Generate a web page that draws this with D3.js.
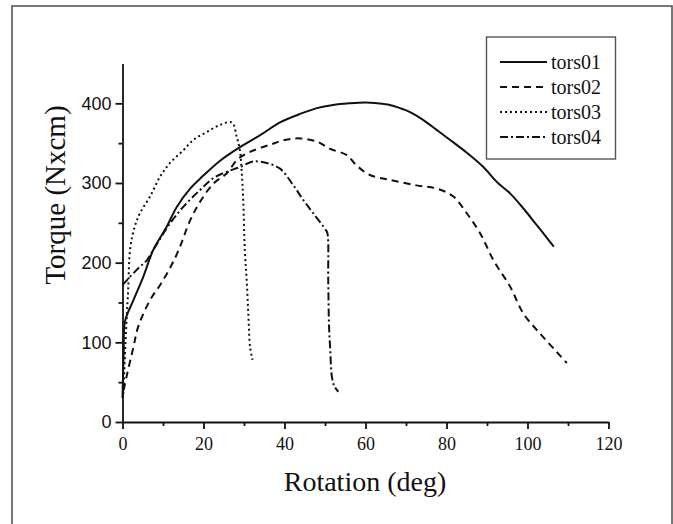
<!DOCTYPE html>
<html>
<head>
<meta charset="utf-8">
<script src="https://cdn.jsdelivr.net/npm/d3@7"></script>
<style>
  html, body { margin: 0; padding: 0; background: #fff; }
  svg { display: block; }
</style>
</head>
<body>
<div id="chart"></div>
<script>
// Torque vs rotation, four torsion tests

const seriesNames = ["tors01", "tors02", "tors03", "tors04"];

const tors01Rot = [0, 0.3, 0.6, 2.7, 5.1, 7.6, 10.9, 13.4, 16.7, 19.9, 24.1, 29.0, 34.0, 38.9, 44, 48, 52, 56, 60, 63, 66, 68.5, 71, 74.3, 77.5, 80.9, 85, 89.1, 92.5, 95.7, 99, 102.3, 104.5, 106.5];
const tors01Torque = [30, 90, 126, 153, 182, 216, 245, 270, 293, 309, 328, 345, 360, 376, 387, 394, 398, 400, 401, 400, 398, 394, 389, 379, 367, 354, 338, 320, 301, 287, 268, 247, 233, 220];

const tors02Rot = [0.3, 1.0, 2.7, 3.9, 6.8, 9.3, 11.7, 13.8, 16.7, 19.1, 22.4, 25.7, 28.5, 31.5, 36.4, 40, 43.8, 48, 51.2, 55.4, 57.8, 61.1, 66, 72.6, 77.6, 81.7, 85, 88.3, 91.6, 95.7, 99, 103.1, 107.2, 109.7];
const tors02Torque = [40, 57, 94, 120, 153, 172, 193, 215, 253, 276, 299, 312, 330, 339, 348, 354, 356, 352, 343, 335, 322, 310, 304, 297, 293, 283, 262, 237, 203, 170, 136, 111, 88, 74];

const tors03Rot = [0.2, 1.0, 1.4, 1.9, 3.0, 4.3, 6.8, 9.3, 11.7, 15.0, 17.5, 20.8, 24.1, 27.0, 28.2, 29.0, 29.4, 29.8, 30.2, 30.7, 31.1, 31.5, 32.1];
const tors03Torque = [35, 128, 166, 218, 245, 262, 283, 308, 325, 341, 354, 364, 373, 376, 358, 341, 316, 279, 216, 174, 132, 94, 78];

const tors04Rot = [0, 3.5, 6.0, 7.6, 11.7, 15.0, 19.1, 22.4, 25.7, 29.0, 32.3, 35.6, 38.9, 42.2, 44.6, 47.1, 50.2, 50.6, 50.8, 51.0, 51.3, 51.7, 52.3, 53.3];
const tors04Torque = [172, 191, 203, 216, 249, 270, 291, 306, 314, 320, 327, 325, 318, 297, 279, 262, 241, 237, 178, 120, 90, 57, 45, 38];

const xTicks = [0, 20, 40, 60, 80, 100, 120];
const xMinorTicks = [10, 30, 50, 70, 90, 110];
const yTicks = [0, 100, 200, 300, 400];
const yMinorTicks = [50, 150, 250, 350];

const dashes = { tors01: null, tors02: "7,5", tors03: "2,3", tors04: "8,3,2,3" };

function drawGraph() {
  const width = 673, height = 524;

  const svg = d3.select("#chart").append("svg")
    .attr("width", width)
    .attr("height", height);

  // outer frame (bottom edge runs off the picture)
  svg.append("rect")
    .attr("x", 12).attr("y", 6)
    .attr("width", 660).attr("height", 560)
    .style("fill", "none")
    .style("stroke", "#555")
    .style("stroke-width", 1.6);

  const x = d3.scaleLinear().domain([0, 120]).range([122.5, 608.5]);
  const y = d3.scaleLinear().domain([0, 450]).range([422, 63.5]);

  const series = [
    { key: "tors01", rot: tors01Rot, tq: tors01Torque },
    { key: "tors02", rot: tors02Rot, tq: tors02Torque },
    { key: "tors03", rot: tors03Rot, tq: tors03Torque },
    { key: "tors04", rot: tors04Rot, tq: tors04Torque }
  ];

  const line = d3.line()
    .x(d => x(d[0]))
    .y(d => y(d[1]))
    .curve(d3.curveCatmullRom.alpha(0.5));

  series.forEach(s => {
    const pts = s.rot.map((r, i) => [r, s.tq[i]]);
    svg.append("path")
      .datum(pts)
      .attr("d", line)
      .style("fill", "none")
      .style("stroke", "#111")
      .style("stroke-width", 2)
      .style("stroke-dasharray", dashes[s.key]);
  });

  // AXES
  const xAxis = svg.append("g")
    .attr("transform", `translate(0,${y(0)})`)
    .call(d3.axisBottom(x).tickValues(xTicks).tickSize(7).tickPadding(8).tickSizeOuter(0));
  svg.append("g")
    .attr("transform", `translate(0,${y(0)})`)
    .call(d3.axisBottom(x).tickValues(xMinorTicks).tickSize(4).tickFormat("").tickSizeOuter(0))
    .select(".domain").remove();

  const yAxis = svg.append("g")
    .attr("transform", `translate(${x(0)},0)`)
    .call(d3.axisLeft(y).tickValues(yTicks).tickSize(7).tickPadding(4).tickSizeOuter(0));
  svg.append("g")
    .attr("transform", `translate(${x(0)},0)`)
    .call(d3.axisLeft(y).tickValues(yMinorTicks).tickSize(4).tickFormat("").tickSizeOuter(0))
    .select(".domain").remove();

  svg.selectAll(".domain, .tick line")
    .style("stroke", "#111")
    .style("stroke-width", 1.8);

  xAxis.selectAll("text")
    .style("font-family", "'Liberation Serif', serif")
    .style("font-size", "18px")
    .style("fill", "#111");

  yAxis.selectAll("text")
    .style("font-family", "'Liberation Sans Narrow', 'Liberation Sans', sans-serif")
    .style("font-size", "18px")
    .style("fill", "#111");

  // AXIS LABELS
  svg.append("text")
    .attr("x", 365)
    .attr("y", 491)
    .attr("text-anchor", "middle")
    .style("font-family", "'Liberation Serif', serif")
    .style("font-size", "28px")
    .style("fill", "#111")
    .text("Rotation (deg)");

  svg.append("text")
    .attr("transform", "translate(65,195) rotate(-90)")
    .attr("text-anchor", "middle")
    .style("font-family", "'Liberation Serif', serif")
    .style("font-size", "29px")
    .style("fill", "#111")
    .text("Torque (Nxcm)");

  // LEGEND
  const legend = svg.append("g");
  legend.append("rect")
    .attr("x", 486.5).attr("y", 37)
    .attr("width", 129).attr("height", 122)
    .style("fill", "#fff")
    .style("stroke", "#555")
    .style("stroke-width", 1.4);

  seriesNames.forEach((name, i) => {
    const ly = 62 + i * 25;
    legend.append("line")
      .attr("x1", 500).attr("x2", 547)
      .attr("y1", ly).attr("y2", ly)
      .style("stroke", "#111")
      .style("stroke-width", 2)
      .style("stroke-dasharray", dashes[name]);
    legend.append("text")
      .attr("x", 551)
      .attr("y", ly)
      .attr("dy", "0.33em")
      .style("font-family", "'Liberation Serif', serif")
      .style("font-size", "20px")
      .style("fill", "#111")
      .text(name);
  });
}

drawGraph();
</script>
</body>
</html>
